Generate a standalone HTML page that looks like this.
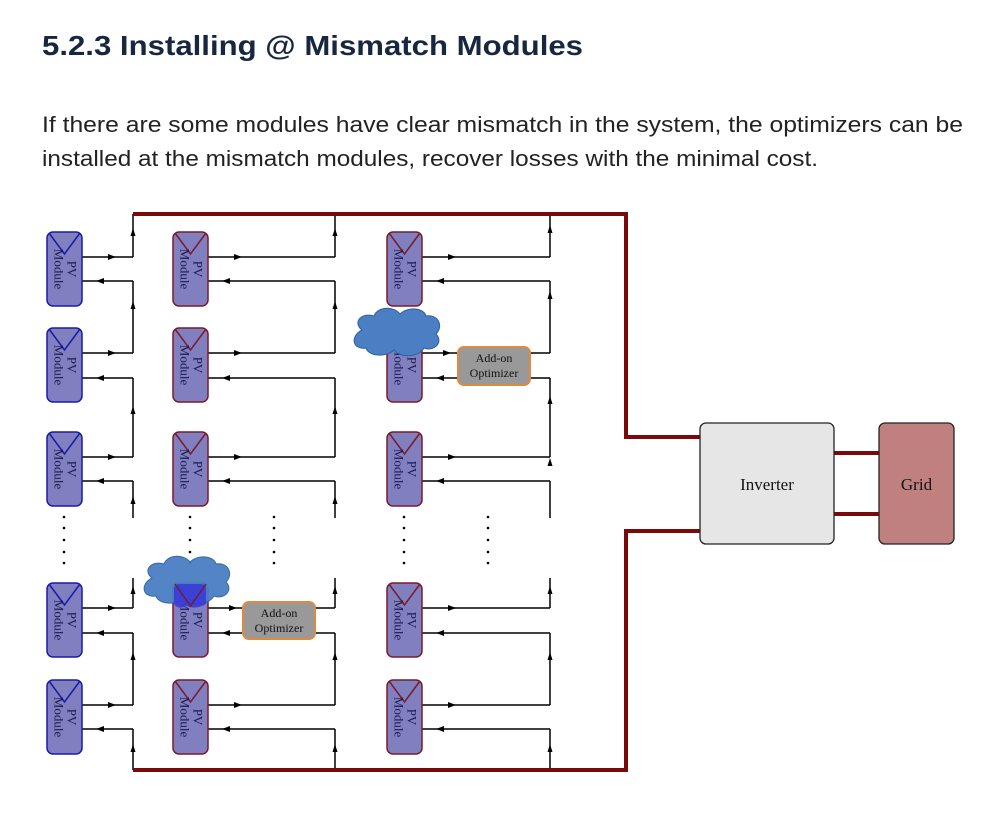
<!DOCTYPE html>
<html><head><meta charset="utf-8"><style>
html,body{margin:0;padding:0;background:#fff;}
svg{display:block;}
</style></head><body>
<svg width="1000" height="818" viewBox="0 0 1000 818" xmlns="http://www.w3.org/2000/svg">
<defs>
<path id="ar" d="M4,0 L-4,-3 L-4,3 Z" fill="#000"/>
<path id="al" d="M-4,0 L4,-3 L4,3 Z" fill="#000"/>
<path id="au" d="M0,-4 L-2.5,4 L2.5,4 Z" fill="#000"/>
<g id="modB">
<rect x="0" y="0" width="35" height="74" rx="6" fill="#8080c0" stroke="#1a1aa8" stroke-width="1.5"/>
<path d="M2,1 L17.5,22 L33,1" fill="none" stroke="#1a1aa8" stroke-width="1.5"/>
<text transform="translate(17.5,37) rotate(90)" text-anchor="middle" font-family="Liberation Serif, serif" font-size="13" fill="#1a1a50"><tspan x="0" y="-3">PV</tspan><tspan x="0" y="10">Module</tspan></text>
</g>
<g id="modR">
<rect x="0" y="0" width="35" height="74" rx="6" fill="#8080c0" stroke="#7a1a2a" stroke-width="1.5"/>
<path d="M2,1 L17.5,22 L33,1" fill="none" stroke="#7a1a2a" stroke-width="1.5"/>
<text transform="translate(17.5,37) rotate(90)" text-anchor="middle" font-family="Liberation Serif, serif" font-size="13" fill="#1a1a50"><tspan x="0" y="-3">PV</tspan><tspan x="0" y="10">Module</tspan></text>
</g>
</defs>

<text x="42" y="55" font-family="Liberation Sans, sans-serif" font-weight="bold" font-size="28" fill="#17273f" textLength="541" lengthAdjust="spacingAndGlyphs">5.2.3 Installing @ Mismatch Modules</text>
<text x="42" y="132" font-family="Liberation Sans, sans-serif" font-size="22" fill="#222" textLength="921" lengthAdjust="spacingAndGlyphs">If there are some modules have clear mismatch in the system, the optimizers can be</text>
<text x="42" y="166" font-family="Liberation Sans, sans-serif" font-size="22" fill="#222" textLength="776" lengthAdjust="spacingAndGlyphs">installed at the mismatch modules, recover losses with the minimal cost.</text>

<!-- thin wires -->
<g stroke="#000" stroke-width="1.5" fill="none">
<!-- col1 -->
<path d="M82,257H133M82,281H133M82,353H133M82,378H133M82,457H133M82,481H133M82,608H133M82,633H133M82,705H133M82,729H133"/>
<path d="M133,214V257M133,281V353M133,378V457M133,481V518M133,578V608M133,633V705M133,729V770"/>
<!-- col2 -->
<path d="M208,257H335M208,281H335M208,353H335M208,378H335M208,457H335M208,481H335M208,608H335M208,633H335M208,705H335M208,729H335"/>
<path d="M335,214V257M335,281V353M335,378V457M335,481V518M335,578V608M335,633V705M335,729V770"/>
<!-- col3 -->
<path d="M422,257H550M422,281H550M422,353H550M422,378H550M422,457H550M422,481H550M422,608H550M422,633H550M422,705H550M422,729H550"/>
<path d="M550,214V257M550,281V353M550,378V457M550,481V518M550,578V608M550,633V705M550,729V770"/>
</g>

<!-- arrows -->
<g>
<use href="#ar" x="112" y="257"/><use href="#al" x="100" y="281"/>
<use href="#ar" x="112" y="353"/><use href="#al" x="100" y="378"/>
<use href="#ar" x="112" y="457"/><use href="#al" x="100" y="481"/>
<use href="#ar" x="112" y="608"/><use href="#al" x="100" y="633"/>
<use href="#ar" x="112" y="705"/><use href="#al" x="100" y="729"/>
<use href="#ar" x="238" y="257"/><use href="#al" x="226" y="281"/>
<use href="#ar" x="238" y="353"/><use href="#al" x="226" y="378"/>
<use href="#ar" x="238" y="457"/><use href="#al" x="226" y="481"/>
<use href="#ar" x="233" y="608"/><use href="#al" x="226" y="633"/>
<use href="#ar" x="238" y="705"/><use href="#al" x="226" y="729"/>
<use href="#ar" x="452" y="257"/><use href="#al" x="440" y="281"/>
<use href="#ar" x="447" y="353"/><use href="#al" x="440" y="378"/>
<use href="#ar" x="452" y="457"/><use href="#al" x="440" y="481"/>
<use href="#ar" x="452" y="608"/><use href="#al" x="440" y="633"/>
<use href="#ar" x="452" y="705"/><use href="#al" x="440" y="729"/>
<use href="#au" x="133" y="232"/><use href="#au" x="133" y="305"/><use href="#au" x="133" y="410"/><use href="#au" x="133" y="500"/><use href="#au" x="133" y="590"/><use href="#au" x="133" y="656"/><use href="#au" x="133" y="748"/>
<use href="#au" x="335" y="232"/><use href="#au" x="335" y="305"/><use href="#au" x="335" y="410"/><use href="#au" x="335" y="500"/><use href="#au" x="335" y="590"/><use href="#au" x="335" y="656"/><use href="#au" x="335" y="748"/>
<use href="#au" x="550" y="229"/><use href="#au" x="550" y="295"/><use href="#au" x="550" y="400"/><use href="#au" x="550" y="462"/><use href="#au" x="550" y="590"/><use href="#au" x="550" y="656"/><use href="#au" x="550" y="748"/>
</g>

<!-- dots -->
<g fill="#000">
<circle cx="64" cy="517" r="1.3"/><circle cx="64" cy="528" r="1.3"/><circle cx="64" cy="540" r="1.3"/><circle cx="64" cy="552" r="1.3"/><circle cx="64" cy="563" r="1.3"/>
<circle cx="190" cy="517" r="1.3"/><circle cx="190" cy="528" r="1.3"/><circle cx="190" cy="540" r="1.3"/><circle cx="190" cy="552" r="1.3"/><circle cx="190" cy="563" r="1.3"/>
<circle cx="274" cy="517" r="1.3"/><circle cx="274" cy="528" r="1.3"/><circle cx="274" cy="540" r="1.3"/><circle cx="274" cy="552" r="1.3"/><circle cx="274" cy="563" r="1.3"/>
<circle cx="404" cy="517" r="1.3"/><circle cx="404" cy="528" r="1.3"/><circle cx="404" cy="540" r="1.3"/><circle cx="404" cy="552" r="1.3"/><circle cx="404" cy="563" r="1.3"/>
<circle cx="488" cy="517" r="1.3"/><circle cx="488" cy="528" r="1.3"/><circle cx="488" cy="540" r="1.3"/><circle cx="488" cy="552" r="1.3"/><circle cx="488" cy="563" r="1.3"/>
</g>

<!-- modules -->
<use href="#modB" x="47" y="232"/><use href="#modB" x="47" y="328"/><use href="#modB" x="47" y="432"/><use href="#modB" x="47" y="583"/><use href="#modB" x="47" y="680"/>
<use href="#modR" x="173" y="232"/><use href="#modR" x="173" y="328"/><use href="#modR" x="173" y="432"/><use href="#modR" x="173" y="583"/><use href="#modR" x="173" y="680"/>
<use href="#modR" x="387" y="232"/><use href="#modR" x="387" y="328"/><use href="#modR" x="387" y="432"/><use href="#modR" x="387" y="583"/><use href="#modR" x="387" y="680"/>

<!-- clouds -->
<g fill="#4a7fc4" stroke="#2f5f9f" stroke-width="1">
<path d="M362,330 C352,322 362,312 374,316 C378,306 394,306 400,314 C408,306 424,308 426,316 C438,314 444,326 436,334 C444,342 434,352 424,348 C418,358 400,358 394,350 C386,358 368,356 366,348 C352,350 350,336 362,330 Z"/>
</g>
<g fill="#4a7fc4" stroke="#2f5f9f" stroke-width="1" opacity="0.95">
<path d="M152,578 C142,570 152,560 164,564 C168,554 184,554 190,562 C198,554 214,556 216,564 C228,562 234,574 226,582 C234,590 224,600 214,596 C208,606 190,606 184,598 C176,606 158,604 156,596 C142,598 140,584 152,578 Z"/>
</g>
<path d="M174,589 Q174,584 179,584 H201 Q206,584 206,589 V604 Q196,610 186,606 Q178,610 174,604 Z" fill="#3a3ad8" opacity="0.9"/>
<path d="M175,584 L190.5,606 L206,584" fill="none" stroke="#7a1a2a" stroke-width="1.5"/>

<!-- optimizers -->
<rect x="458" y="347" width="72" height="38" rx="6" fill="#999" stroke="#e08a40" stroke-width="2"/>
<text x="494" y="362" text-anchor="middle" font-family="Liberation Serif, serif" font-size="12" fill="#111">Add-on</text>
<text x="494" y="377" text-anchor="middle" font-family="Liberation Serif, serif" font-size="12" fill="#111">Optimizer</text>
<rect x="243" y="602" width="72" height="37" rx="6" fill="#999" stroke="#e08a40" stroke-width="2"/>
<text x="279" y="617" text-anchor="middle" font-family="Liberation Serif, serif" font-size="12" fill="#111">Add-on</text>
<text x="279" y="632" text-anchor="middle" font-family="Liberation Serif, serif" font-size="12" fill="#111">Optimizer</text>

<!-- thick buses -->
<g stroke="#7a0a0a" stroke-width="4" fill="none">
<path d="M133,214H626V437H700"/>
<path d="M133,770H626V531H700"/>
<path d="M834,453H879M834,514H879"/>
</g>

<!-- inverter and grid -->
<rect x="700" y="423" width="134" height="121" rx="6" fill="#e6e6e6" stroke="#222" stroke-width="1.3"/>
<text x="767" y="490" text-anchor="middle" font-family="Liberation Serif, serif" font-size="17" fill="#111">Inverter</text>
<rect x="879" y="423" width="75" height="121" rx="6" fill="#c08080" stroke="#222" stroke-width="1.3"/>
<text x="916.5" y="490" text-anchor="middle" font-family="Liberation Serif, serif" font-size="17" fill="#111">Grid</text>
</svg>
</body></html>
